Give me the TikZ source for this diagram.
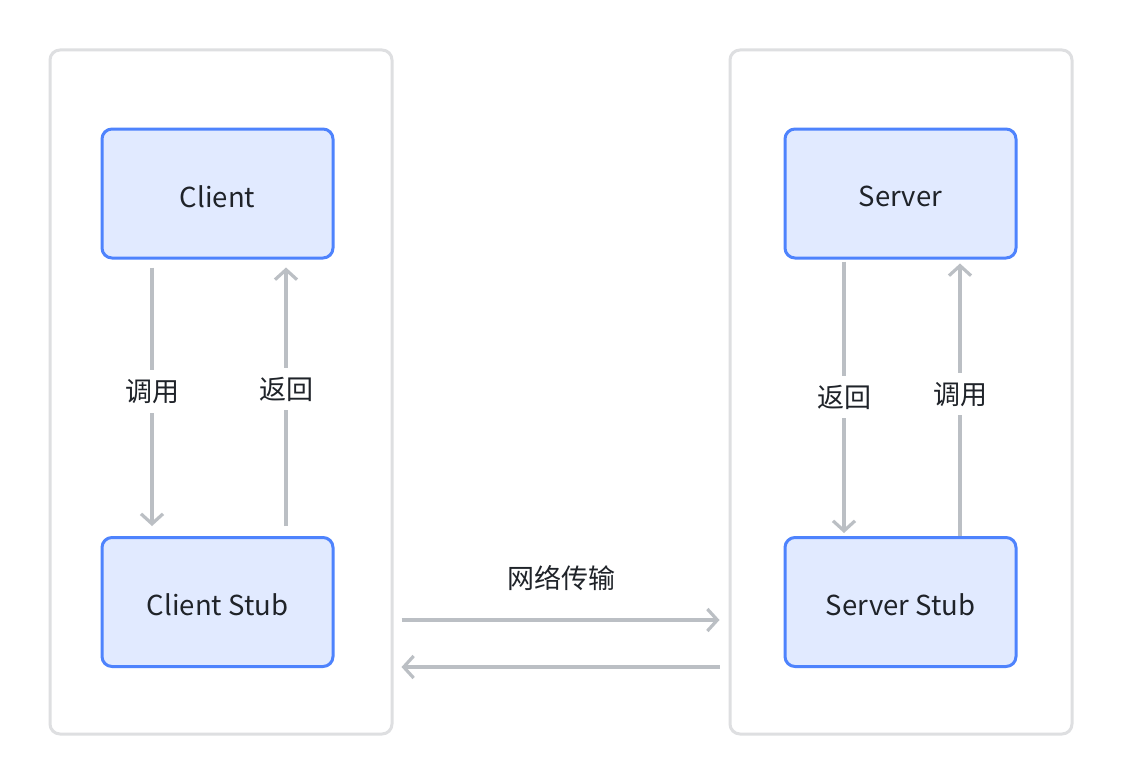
\documentclass[tikz,border=0pt]{standalone}
\usepackage{fontspec}
\setmainfont{Noto Sans CJK SC}
\usetikzlibrary{arrows.meta,calc}
\definecolor{outerline}{HTML}{DEDFE1}
\definecolor{boxfill}{HTML}{E1EAFF}
\definecolor{boxline}{HTML}{4E83FD}
\definecolor{arrowgray}{HTML}{BBBFC4}
\definecolor{txt}{HTML}{1F2329}
\newcommand{\boxtext}[1]{\raisebox{-3pt}[\height][\depth]{#1}}
\tikzset{
  outerbox/.style={draw=outerline, line width=3pt, rounded corners=10pt, fill=white},
  compbox/.style={draw=boxline, fill=boxfill, line width=3pt, rounded corners=10pt, minimum width=231pt, minimum height=129pt, inner sep=0pt, text=txt, font=\fontsize{27.5pt}{32pt}\selectfont},
  conn/.style={draw=arrowgray, line width=3.2pt, -{Straight Barb[length=10pt,width=22pt,line width=3.2pt]}},
  lbl/.style={fill=white, text=txt, inner xsep=5pt, inner ysep=9pt, font=\fontsize{27pt}{31pt}\selectfont}
}
\begin{document}
\begin{tikzpicture}[x=1pt,y=-1pt]
\useasboundingbox (0,0) rectangle (1122,784);
\fill[white] (0,0) rectangle (1122,784);
\node[outerbox, minimum width=342pt, minimum height=684pt] (leftframe) at (221,392) {};
\node[outerbox, minimum width=342pt, minimum height=684pt] (rightframe) at (901,392) {};
\node[compbox] (client) at (217.5,193.5) {\boxtext{Client}};
\node[compbox] (cstub) at (217.5,602) {\boxtext{Client Stub}};
\node[compbox] (server) at (900.5,193.5) {\boxtext{Server}};
\node[compbox] (sstub) at (900.5,602) {\boxtext{Server Stub}};
% left
\draw[conn] ($(client.south)+(-65.5,8)$) -- node[lbl,pos=0.48]{调用} ($(cstub.north)+(-65.5,-10)$);
\draw[conn] ($(cstub.north)+(68.5,-10)$) -- node[lbl,pos=0.53]{返回} ($(client.south)+(68.5,8)$);
% right
\draw[conn] ($(server.south)+(-56.5,2)$) -- node[lbl,pos=0.5]{返回} ($(sstub.north)+(-56.5,-3)$);
\draw[conn] ($(sstub.north)+(59.5,0)$) -- node[lbl,pos=0.52]{调用} ($(server.south)+(59.5,4)$);
% network
\coordinate (nl1) at ($(leftframe.east)+(8,228)$);
\coordinate (nr1) at ($(rightframe.west)+(-9,228)$);
\coordinate (nl2) at ($(leftframe.east)+(8,275)$);
\coordinate (nr2) at ($(rightframe.west)+(-9,275)$);
\draw[conn] (nl1) -- (nr1);
\draw[conn] (nr2) -- (nl2);
\node[text=txt, font=\fontsize{27pt}{31pt}\selectfont] (net) at (561,578) {网络传输};
\end{tikzpicture}
\end{document}
